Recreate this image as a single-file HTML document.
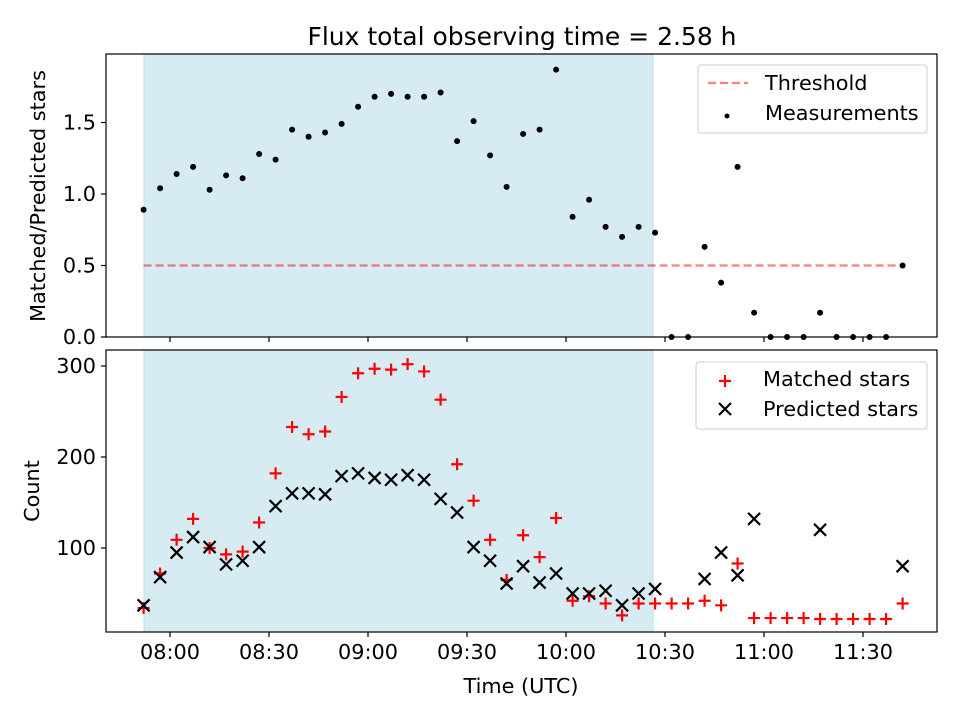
<!DOCTYPE html>
<html><head><meta charset="utf-8"><style>
body{margin:0;background:#fff}
svg text{font-family:"DejaVu Sans","Liberation Sans",sans-serif;fill:#000}
</style></head><body>
<svg id="chart" width="960" height="720" viewBox="0 0 960 720" xmlns="http://www.w3.org/2000/svg">
<rect width="960" height="720" fill="#fff"/>
<text x="522" y="45" font-size="25" text-anchor="middle">Flux total observing time = 2.58 h</text>
<g id="topPanel"></g>
<g id="botPanel"></g>
<text transform="translate(45,196) rotate(-90)" font-size="20.8" text-anchor="middle">Matched/Predicted stars</text>
<text transform="translate(39,491) rotate(-90)" font-size="20.8" text-anchor="middle">Count</text>
<text x="521" y="693" font-size="20.8" text-anchor="middle">Time (UTC)</text>
</svg>
<script>
// minutes since midnight (07:52 + ~5 min steps)
const times = [472,477,482,487,492,497,502,507,512,517,522,527,532,537,542,547,552,557,562,567,572,577,582,587,592,597,602,607,612,617,622,627,632,637,642,647,652,657,662,667,672,677,682,687,692,697,702];
const ratio = [0.89,1.04,1.14,1.19,1.03,1.13,1.11,1.28,1.24,1.45,1.40,1.43,1.49,1.61,1.68,1.70,1.68,1.68,1.71,1.37,1.51,1.27,1.05,1.42,1.45,1.87,0.84,0.96,0.77,0.70,0.77,0.73,0,0,0.63,0.38,1.19,0.17,0,0,0,0.17,0,0,0,0,0.5];
const matched = [34,72,109,132,100,93,96,128,182,233,225,228,266,292,297,296,302,294,263,192,152,109,65,114,90,133,42,47,39,26,39,39,39,39,42,37,83,23,23,23,23,22,22,22,22,22,39];
const predicted = [37,68,95,112,101,82,86,101,146,160,160,159,179,182,177,175,180,175,154,139,101,86,61,80,62,72,50,50,53,37,50,55,null,null,66,95,70,132,null,null,null,120,null,null,null,null,80];
const xTicks = [480,510,540,570,600,630,660,690];
const xTickLabels = ["08:00","08:30","09:00","09:30","10:00","10:30","11:00","11:30"];
const topTicks = [0,0.5,1.0,1.5];
const topTickLabels = ["0.0","0.5","1.0","1.5"];
const botTicks = [100,200,300];
const botTickLabels = ["100","200","300"];
const threshold = 0.5;
const spanStart = 472.1, spanEnd = 626.4;

const NS="http://www.w3.org/2000/svg";
const L=106,R=937,T1=54,B1=337,T2=350,B2=632;
const FS=20.8;
const xs=m=>170+(m-480)*3.3;
const y1=v=>337-v*143;
const y2=v=>639-v*0.91;
function mk(tag,attrs,parent){const e=document.createElementNS(NS,tag);for(const k in attrs)e.setAttribute(k,attrs[k]);parent.appendChild(e);return e;}
const topG=document.getElementById('topPanel'), botG=document.getElementById('botPanel');

function panel(g,T,B,ys,ticks,labels,withXLabels,prefix){
  let s=mk('rect',{x:xs(spanStart),y:T,width:xs(spanEnd)-xs(spanStart),height:B-T,fill:'#add8e6','fill-opacity':0.5,stroke:'#add8e6','stroke-opacity':0.7},g);
  
  
  ticks.forEach((t,i)=>{
    const y=ys(t);
    const l=mk('line',{x1:L-5,x2:L,y1:y,y2:y,stroke:'#000','stroke-width':1.2},g);
    
    
    const tx=mk('text',{x:L-10,y:y+7,'font-size':FS,'text-anchor':'end'},g);
    tx.textContent=labels[i];
    
    
  });
  xTicks.forEach((t,i)=>{
    const x=xs(t);
    const l=mk('line',{x1:x,x2:x,y1:B,y2:B+5,stroke:'#000','stroke-width':1.2},g);
    
    
    if(withXLabels){
      const tx=mk('text',{x:x,y:B+27,'font-size':FS,'text-anchor':'middle'},g);
      tx.textContent=xTickLabels[i];
      
      
    }
  });
}
panel(topG,T1,B1,y1,topTicks,topTickLabels,false,'top');
panel(botG,T2,B2,y2,botTicks,botTickLabels,true,'bottom');

const th=mk('line',{x1:xs(times[0]),x2:xs(times[times.length-1]),y1:y1(threshold),y2:y1(threshold),stroke:'#ff0000','stroke-opacity':0.5,'stroke-width':2.2,'stroke-dasharray':'8,4'},topG);


ratio.forEach((v,i)=>{
  const c=mk('circle',{cx:xs(times[i]),cy:y1(v),r:3,fill:'#000'},topG);
  
  
});
function plus(g,x,y){return mk('path',{d:`M${x-6},${y}H${x+6}M${x},${y-6}V${y+6}`,stroke:'#ff0000','stroke-width':2.2,fill:'none'},g);}
function cross(g,x,y){return mk('path',{d:`M${x-6},${y-6}L${x+6},${y+6}M${x-6},${y+6}L${x+6},${y-6}`,stroke:'#000','stroke-width':2.2,fill:'none'},g);}
matched.forEach((v,i)=>{
  const p=plus(botG,xs(times[i]),y2(v));
  
  
});
predicted.forEach((v,i)=>{
  if(v===null)return;
  const p=cross(botG,xs(times[i]),y2(v));
  
  
});
[[topG,T1,B1,'top-frame'],[botG,T2,B2,'bottom-frame']].forEach(a=>{
  const f=mk('rect',{x:L,y:a[1],width:R-L,height:a[2]-a[1],fill:'none',stroke:'#000','stroke-width':1.2},a[0]);
  
  
});
function legendBox(g,x,y,w,h,name){const b=mk('rect',{x:x,y:y,width:w,height:h,rx:3,fill:'#fff','fill-opacity':0.8,stroke:'#ccc'},g);}
legendBox(topG,698,65,229,68,'top-legend');
let e=mk('line',{x1:708,x2:748,y1:83,y2:83,stroke:'#ff0000','stroke-opacity':0.5,'stroke-width':2.2,'stroke-dasharray':'8,4'},topG);


e=mk('text',{x:765,y:90,'font-size':FS},topG);e.textContent='Threshold';


e=mk('circle',{cx:727,cy:116,r:2.5,fill:'#000'},topG);


e=mk('text',{x:765,y:120,'font-size':FS},topG);e.textContent='Measurements';


legendBox(botG,696,362,231,67,'bottom-legend');
e=plus(botG,725,381);


e=mk('text',{x:763,y:386,'font-size':FS},botG);e.textContent='Matched stars';


e=cross(botG,725,409);


e=mk('text',{x:763,y:416,'font-size':FS},botG);e.textContent='Predicted stars';


</script>
</body></html>
